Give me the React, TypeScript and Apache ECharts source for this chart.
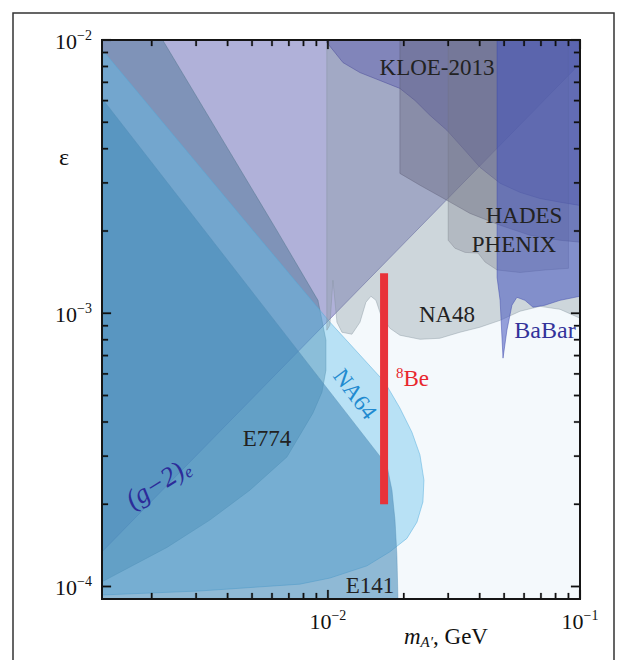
import React, { useEffect, useRef } from 'react';
import * as echarts from 'echarts';

type P = [number, number];

// Axis ranges (m_A' in GeV, epsilon)
const X_MIN = 0.00127;
const X_MAX = 0.1;
const Y_MIN = 9e-5;
const Y_MAX = 0.01;

// Exclusion regions, vertices as [m (GeV), epsilon]
const g2Region: P[] = [
  [0.00127, 1.34e-4], [0.1, 8.2e-3], [0.1, 0.01], [0.00127, 0.01],
];
const e774Region: P[] = [
  [0.00127, 0.01], [0.00221, 0.01], [0.00627, 2.01e-3], [0.00913, 1.115e-3],
  [0.00982, 7.97e-4], [0.00982, 6.19e-4], [0.00947, 5.14e-4], [0.00872, 4.31e-4],
  [0.00688, 2.98e-4], [0.0049, 2.25e-4], [0.0034, 1.75e-4], [0.0023, 1.39e-4],
  [0.00127, 1.04e-4],
];
const na64Region: P[] = [
  [0.00127, 9.23e-3], [0.00504, 2.01e-3], [0.01019, 9.27e-4], [0.01682, 5.59e-4],
  [0.0193, 4.5e-4], [0.02154, 3.67e-4], [0.02318, 3.03e-4], [0.02404, 2.45e-4],
  [0.02382, 2.04e-4], [0.02255, 1.72e-4], [0.02058, 1.5e-4], [0.01762, 1.34e-4],
  [0.01428, 1.19e-4], [0.01019, 1.074e-4], [0.00774, 1.02e-4], [0.0031, 9.63e-5],
  [0.00127, 9.31e-5],
];
const e141Region: P[] = [
  [0.00127, 6.11e-3], [0.01713, 2.78e-4], [0.01795, 2.25e-4], [0.01845, 1.75e-4],
  [0.01878, 1.3e-4], [0.01896, 9e-5], [0.00127, 9e-5],
];
const na48Region: P[] = [
  [0.0099, 0.01], [0.1, 0.01], [0.1, 9.59e-4], [0.0833, 1.034e-3], [0.0694, 1.06e-3],
  [0.0578, 1.017e-3], [0.0482, 9.42e-4], [0.0401, 8.89e-4], [0.0334, 8.52e-4],
  [0.0278, 8.1e-4], [0.0232, 8.03e-4], [0.0193, 8.31e-4], [0.01762, 8.81e-4],
  [0.01623, 9.83e-4], [0.01551, 1.115e-3], [0.01481, 1.154e-3], [0.01415, 1.097e-3],
  [0.0134, 9.27e-4], [0.01245, 8.38e-4], [0.01137, 8.52e-4], [0.01086, 9.27e-4],
  [0.01047, 1.32e-3], [0.01018, 9.04e-4], [0.0099, 8.67e-4],
];
const kloeRegion: P[] = [
  [0.0099, 0.01], [0.0099, 9.79e-3], [0.01066, 9.0e-3], [0.01147, 8.27e-3],
  [0.0134, 7.6e-3], [0.01608, 7.11e-3], [0.0193, 6.65e-3], [0.02214, 6.01e-3],
  [0.0254, 5.3e-3], [0.02967, 4.67e-3], [0.035, 3.94e-3], [0.0401, 3.42e-3],
  [0.0482, 2.99e-3], [0.0578, 2.77e-3], [0.0694, 2.63e-3], [0.0833, 2.55e-3],
  [0.1, 2.48e-3], [0.1, 0.01],
];
const hadesRegion: P[] = [
  [0.0193, 0.01], [0.0193, 3.25e-3], [0.0232, 2.94e-3], [0.02967, 2.59e-3],
  [0.0366, 2.32e-3], [0.0482, 2.1e-3], [0.0633, 1.93e-3], [0.0833, 1.85e-3],
  [0.1, 1.82e-3], [0.1, 0.01],
];
const phenixRegion: P[] = [
  [0.03, 0.01], [0.03, 1.85e-3], [0.0319, 1.73e-3], [0.035, 1.67e-3], [0.0394, 1.66e-3],
  [0.042, 1.54e-3], [0.0469, 1.44e-3], [0.0578, 1.41e-3], [0.0726, 1.44e-3],
  [0.09, 1.46e-3], [0.09, 0.01],
];
const babarRegion: P[] = [
  [0.0469, 0.01], [0.0469, 1.35e-3], [0.0482, 1.115e-3], [0.0495, 6.85e-4],
  [0.0513, 8.67e-4], [0.0537, 1.07e-3], [0.0562, 1.144e-3], [0.0605, 1.115e-3],
  [0.0651, 1.052e-3], [0.0726, 1.07e-3], [0.0833, 1.115e-3], [0.1, 1.154e-3], [0.1, 0.01],
];
// 8Be anomaly band: m = 16.7 MeV, eps = (2.0 - 14) x 10^-4
const be8Band: P[] = [[0.0167, 2.0e-4], [0.0167, 1.4e-3]];

// Ticks
const xMajorTicks = [0.01, 0.1];
const xMinorTicks = [0.002, 0.003, 0.004, 0.005, 0.006, 0.007, 0.008, 0.009,
  0.02, 0.03, 0.04, 0.05, 0.06, 0.07, 0.08, 0.09];
const yMajorTicks = [1e-4, 1e-3, 1e-2];
const yMinorTicks = [2e-4, 3e-4, 4e-4, 5e-4, 6e-4, 7e-4, 8e-4, 9e-4,
  2e-3, 3e-3, 4e-3, 5e-3, 6e-3, 7e-3, 8e-3, 9e-3];
const xTickLabels: [number, string][] = [[0.01, '−2'], [0.1, '−1']];
const yTickLabels: [number, string][] = [[1e-2, '−2'], [1e-3, '−3'], [1e-4, '−4']];

const SERIF = "'Liberation Serif', 'Times New Roman', 'DejaVu Serif', serif";

const regionStyles = [
  { pts: g2Region, fill: 'rgba(120,118,187,0.55)', stroke: 'rgba(95,93,165,0.8)' },
  { pts: e774Region, fill: 'rgba(60,105,138,0.42)', stroke: 'rgba(70,110,130,0.5)' },
  { pts: na64Region, fill: 'rgba(100,192,237,0.42)', stroke: 'rgba(80,170,220,0.6)' },
  { pts: e141Region, fill: 'rgba(70,138,185,0.58)', stroke: 'rgba(80,140,180,0.5)' },
  { pts: na48Region, fill: 'rgba(138,154,162,0.37)', stroke: 'rgba(130,145,155,0.5)' },
  { pts: kloeRegion, fill: 'rgba(80,80,170,0.4)', stroke: 'rgba(70,70,150,0.6)' },
  { pts: hadesRegion, fill: 'rgba(100,100,125,0.4)', stroke: 'rgba(90,90,115,0.5)' },
  { pts: phenixRegion, fill: 'rgba(120,122,135,0.3)', stroke: 'rgba(110,112,125,0.4)' },
  { pts: babarRegion, fill: 'rgba(70,85,190,0.55)', stroke: 'rgba(60,70,170,0.6)' },
];

function polySeries(pts: P[], fill: string, stroke: string) {
  return {
    type: 'custom',
    silent: true,
    data: [[pts[0][0], pts[0][1]]],
    renderItem: (_p: any, api: any) => ({
      type: 'polygon',
      shape: { points: pts.map((p) => api.coord(p)) },
      style: { fill, stroke, lineWidth: 0.8 },
    }),
  };
}

// One custom series per single tick: a thin filled polygon, drawn like the regions
type Side = 'bottom' | 'top' | 'left' | 'right';
function tickSeries(side: Side, v: number, len: number) {
  const hw = 0.8;
  return {
    type: 'custom',
    silent: true,
    data: [[0.01, 0.001]],
    renderItem: (_p: any, api: any) => {
      let pts: number[][];
      if (side === 'bottom' || side === 'top') {
        const c = api.coord([v, side === 'bottom' ? Y_MIN : Y_MAX]);
        const d = side === 'bottom' ? -len : len;
        pts = [[c[0] - hw, c[1]], [c[0] + hw, c[1]], [c[0] + hw, c[1] + d], [c[0] - hw, c[1] + d]];
      } else {
        const c = api.coord([side === 'left' ? X_MIN : X_MAX, v]);
        const d = side === 'left' ? len : -len;
        pts = [[c[0], c[1] - hw], [c[0] + d, c[1] - hw], [c[0] + d, c[1] + hw], [c[0], c[1] + hw]];
      }
      return { type: 'polygon', shape: { points: pts }, style: { fill: '#111', stroke: '#111', lineWidth: 0.2 } };
    },
  };
}

function allTickSeries() {
  const out: any[] = [];
  (['bottom', 'top'] as Side[]).forEach((s) => {
    xMajorTicks.forEach((v) => out.push(tickSeries(s, v, 9)));
    xMinorTicks.forEach((v) => out.push(tickSeries(s, v, 6)));
  });
  (['left', 'right'] as Side[]).forEach((s) => {
    yMajorTicks.forEach((v) => out.push(tickSeries(s, v, 9)));
    yMinorTicks.forEach((v) => out.push(tickSeries(s, v, 6)));
  });
  return out;
}

function tickRich() {
  return {
    b: { fontSize: 22, fontFamily: SERIF, lineHeight: 26, fill: '#111' },
    s: { fontSize: 14, fontFamily: SERIF, lineHeight: 16, verticalAlign: 'top', fill: '#111' },
  };
}

function be8Series() {
  return {
    type: 'custom',
    silent: true,
    data: [be8Band[0]],
    renderItem: (_p: any, api: any) => {
      const a = api.coord(be8Band[0]);
      const b = api.coord(be8Band[1]);
      return {
        type: 'line',
        shape: { x1: a[0], y1: a[1], x2: b[0], y2: b[1] },
        style: { stroke: '#e8333a', lineWidth: 8, lineCap: 'butt' },
      };
    },
  };
}

function label(text: string, x: number, y: number, extra: any = {}) {
  return {
    type: 'text', x, y, z: 50, silent: true,
    rotation: extra.rotation || 0,
    style: {
      text, fontSize: extra.fontSize || 23, fontFamily: SERIF,
      fill: extra.fill || '#222', align: extra.align || 'center', verticalAlign: 'middle',
      fontStyle: extra.fontStyle || 'normal',
      rich: extra.rich,
    },
  };
}

export default function App() {
  const ref = useRef<HTMLDivElement>(null);
  useEffect(() => {
    document.body.style.margin = '0';
    const chart = echarts.init(ref.current!, undefined, { renderer: 'svg' });
    const baseGraphic: any[] = [
      { type: 'rect', z: 60, silent: true, shape: { x: 102, y: 40, width: 478, height: 559 }, style: { fill: 'none', stroke: '#151515', lineWidth: 2 } },
      { type: 'rect', z: 60, silent: true, shape: { x: 13, y: 13, width: 601, height: 700 }, style: { fill: 'none', stroke: '#333', lineWidth: 1.5 } },
      label('KLOE-2013', 437, 67),
      label('HADES', 524, 215),
      label('PHENIX', 514, 244),
      label('NA48', 447, 314),
      label('BaBar', 545, 330, { fill: '#33339a', fontSize: 24 }),
      label('E774', 267, 438),
      label('E141', 370, 585),
      label('NA64', 355, 394, { fill: '#1f8ad0', rotation: -0.93 }),
      label('{s|8}{b|Be}', 396, 378, {
        align: 'left',
        rich: {
          s: { fontSize: 15, fontFamily: SERIF, fill: '#e8272d', lineHeight: 16, verticalAlign: 'top' },
          b: { fontSize: 23, fontFamily: SERIF, fill: '#e8272d', lineHeight: 26 },
        },
      }),
      label('{a|(g−2)}{e|e}', 158, 483, {
        rotation: 0.56,
        rich: {
          a: { fontSize: 27, fontFamily: SERIF, fontStyle: 'italic', fill: '#2c2c99', lineHeight: 30 },
          e: { fontSize: 17, fontFamily: SERIF, fontStyle: 'italic', fill: '#2c2c99', lineHeight: 17, verticalAlign: 'bottom' },
        },
      }),
      label('ε', 64, 157, { fontSize: 24, fill: '#111' }),
      label('{m|m}{s|A′}{g|, GeV}', 404, 636, {
        align: 'left',
        rich: {
          m: { fontSize: 23, fontFamily: SERIF, fontStyle: 'italic', fill: '#111', lineHeight: 26 },
          s: { fontSize: 15, fontFamily: SERIF, fontStyle: 'italic', fill: '#111', lineHeight: 15, verticalAlign: 'bottom' },
          g: { fontSize: 23, fontFamily: SERIF, fill: '#111', lineHeight: 26 },
        },
      }),
    ];
    const option: any = {
      animation: false,
      backgroundColor: '#ffffff',
      grid: { left: 102, top: 40, right: 47, bottom: 61, show: true, backgroundColor: '#f4f9fc', borderWidth: 0 },
      xAxis: { type: 'log', logBase: 10, min: X_MIN, max: X_MAX, show: false },
      yAxis: { type: 'log', logBase: 10, min: Y_MIN, max: Y_MAX, show: false },
      series: [
        ...regionStyles.map((r) => polySeries(r.pts, r.fill, r.stroke)),
        be8Series(),
        ...allTickSeries(),
      ],
      graphic: baseGraphic,
    };
    chart.setOption(option);

    // Tick labels placed through the chart's own log scales
    const px = (v: P) => chart.convertToPixel({ gridIndex: 0 }, v) as number[];
    const labelEls: any[] = [];
    xTickLabels.forEach(([v, e]) => {
      const b = px([v, Y_MIN]);
      labelEls.push({
        type: 'text', z: 55, silent: true, x: b[0], y: b[1] + 22,
        style: { text: `{b|10}{s|${e}}`, rich: tickRich(), align: 'center', verticalAlign: 'middle' },
      });
    });
    yTickLabels.forEach(([v, e]) => {
      const l = px([X_MIN, v]);
      labelEls.push({
        type: 'text', z: 55, silent: true, x: l[0] - 10, y: l[1] + 1,
        style: { text: `{b|10}{s|${e}}`, rich: tickRich(), align: 'right', verticalAlign: 'middle' },
      });
    });
    chart.setOption({ graphic: [...baseGraphic, ...labelEls] }, { replaceMerge: ['graphic'] });

    return () => chart.dispose();
  }, []);
  return <div ref={ref} style={{ width: 627, height: 660 }} />;
}
